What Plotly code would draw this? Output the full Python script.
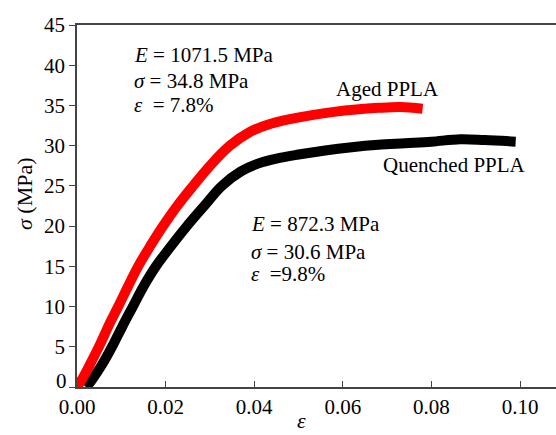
import plotly.graph_objects as go

# Aged PPLA (red)
aged_strain = [0.0, 0.0015, 0.0032, 0.0052, 0.0072, 0.0093, 0.0115, 0.0138, 0.0165,
               0.0194, 0.0226, 0.0262, 0.030, 0.0345, 0.039, 0.043, 0.048, 0.053, 0.058,
               0.063, 0.068, 0.073, 0.078]
aged_stress = [0.0, 1.3, 3.1, 5.3, 7.7, 10.0, 12.5, 15.0, 17.5,
               20.0, 22.5, 25.0, 27.5, 30.0, 31.7, 32.6, 33.3, 33.8, 34.2,
               34.5, 34.7, 34.8, 34.6]

# Quenched PPLA (black)
quen_strain = [0.002, 0.003, 0.0045, 0.0062, 0.0081, 0.0103, 0.0126, 0.015, 0.0178, 0.0212,
               0.0248, 0.0287, 0.0327, 0.037, 0.041, 0.045, 0.050, 0.056, 0.062, 0.068,
               0.074, 0.080, 0.0865, 0.092, 0.099]
quen_stress = [0.0, 0.6, 1.8, 3.3, 5.2, 7.6, 10.0, 12.5, 15.0, 17.5,
               20.0, 22.5, 25.0, 26.8, 27.8, 28.4, 28.9, 29.4, 29.8, 30.1,
               30.3, 30.5, 30.8, 30.7, 30.5]

x_ticks = [0.00, 0.02, 0.04, 0.06, 0.08, 0.10]
x_tick_text = ["0.00", "0.02", "0.04", "0.06", "0.08", "0.10"]
y_ticks = [0, 5, 10, 15, 20, 25, 30, 35, 40, 45]
y_tick_text = ["", "5", "10", "15", "20", "25", "30", "35", "40", "45"]

FONT = "Liberation Serif, Times New Roman, serif"

fig = go.Figure()
fig.add_trace(go.Scatter(x=quen_strain, y=quen_stress, mode="lines",
                         line=dict(color="black", width=10, shape="spline", smoothing=1.0),
                         name="Quenched PPLA", showlegend=False))
fig.add_trace(go.Scatter(x=aged_strain, y=aged_stress, mode="lines",
                         line=dict(color="#ff0000", width=10, shape="spline", smoothing=1.0),
                         name="Aged PPLA", showlegend=False))

anns = [
    dict(x=0.0124, y=41.3, text="<i>E</i> = 1071.5 MPa"),
    dict(x=0.0124, y=38.0, text="<i>σ</i> = 34.8 MPa"),
    dict(x=0.0124, y=35.0, text="<i>ε</i>  = 7.8%"),
    dict(x=0.0389, y=20.3, text="<i>E</i> = 872.3 MPa"),
    dict(x=0.0389, y=16.8, text="<i>σ</i> = 30.6 MPa"),
    dict(x=0.0389, y=14.1, text="<i>ε</i>  =9.8%"),
    dict(x=0.0580, y=37.1, text="Aged PPLA"),
    dict(x=0.0686, y=27.6, text="Quenched PPLA"),
]
for a in anns:
    fig.add_annotation(x=a["x"], y=a["y"], text=a["text"], showarrow=False,
                       xanchor="left", yanchor="middle",
                       font=dict(family=FONT, size=21, color="black"))

# "0" tick label on the y axis, sitting slightly above the axis line as in the reference
fig.add_annotation(x=0, xref="x domain", y=y_ticks[0], yref="y", text="0",
                   showarrow=False, xanchor="right", yanchor="middle",
                   xshift=-8, yshift=6, font=dict(family=FONT, size=21, color="black"))

# x-axis title (epsilon), near the bottom edge
fig.add_annotation(x=(301 - 77) / 479, y=-48 / 362, xref="x domain", yref="y domain",
                   text="<i>ε</i>", showarrow=False, xanchor="center", yanchor="bottom",
                   font=dict(family=FONT, size=22, color="black"))
# y-axis title
fig.add_annotation(x=-53 / 479, y=(387 - 194) / 362, xref="x domain", yref="y domain",
                   text="<i>σ</i> (MPa)", showarrow=False, textangle=-90,
                   xanchor="center", yanchor="middle",
                   font=dict(family=FONT, size=22, color="black"))

fig.update_layout(
    width=556, height=435,
    margin=dict(l=77, r=0, t=25, b=48),
    plot_bgcolor="white", paper_bgcolor="white",
    font=dict(family=FONT, size=21, color="black"),
    showlegend=False,
)
fig.update_xaxes(range=[0, 0.1081], tickvals=x_ticks, ticktext=x_tick_text,
                 ticks="inside", ticklen=6, tickwidth=1.2, tickcolor="#444",
                 showline=True, linecolor="#444", linewidth=1.5, mirror=True,
                 showgrid=False, zeroline=False,
                 tickfont=dict(family=FONT, size=21))
fig.update_yaxes(range=[0, 45], tickvals=y_ticks, ticktext=y_tick_text,
                 ticks="outside", ticklen=6, tickwidth=1.2, tickcolor="#444",
                 showline=True, linecolor="#444", linewidth=1.5,
                 showgrid=False, zeroline=False,
                 tickfont=dict(family=FONT, size=21))

fig.write_html("out.html")
